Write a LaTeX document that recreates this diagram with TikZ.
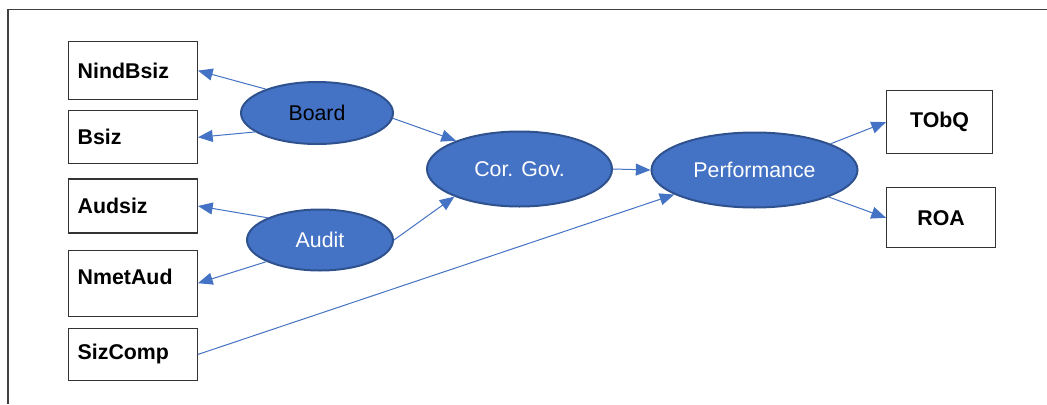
\documentclass[tikz,border=0pt]{standalone}
\usepackage{fontspec}
\setmainfont{Liberation Sans}
\usepackage{tikz}
\usetikzlibrary{shapes.geometric, arrows.meta, positioning}
\definecolor{oBlue}{RGB}{68,114,196}
\definecolor{oEdge}{RGB}{47,82,143}
\newcommand{\boxfont}{\fontsize{16}{19}\selectfont\bfseries}
\tikzstyle{ind}   = [rectangle, draw=black!80, line width=0.9pt, text width=83pt,
inner xsep=6.75pt, align=left, font=\boxfont]
\tikzstyle{res}   = [rectangle, draw=black!80, line width=0.9pt, align=center, font=\boxfont]
\tikzstyle{lat}   = [ellipse, draw=oEdge, line width=1.5pt, fill=oBlue, text=white]
\tikzstyle{arrow} = [-{Triangle[length=11pt,width=9pt]}, draw=oBlue, line width=0.75pt]

\begin{document}
\begin{tikzpicture}[x=0.75pt, y=-0.75pt, font=\fontsize{16}{19}\selectfont]
      \useasboundingbox (0,0) rectangle (1047,404);
      \draw [black!75, line width=1pt] (8,404) -- (8,9.5) -- (1047,9.5);

      \node(Nb)  [ind, minimum height=43.5pt, anchor=north east] at (198,41) {NindBsiz};
      \node(Bs)  [ind, minimum height=39.75pt, below=7.5pt of Nb.south east, anchor=north east] {Bsiz};
      \node(As)  [ind, minimum height=40.5pt, below=10.5pt of Bs.south east, anchor=north east] {Audsiz};
      \node(Na)  [ind, minimum height=49.5pt, text depth=10pt, below=12pt of As.south east, anchor=north east] {NmetAud};
      \node(Sc)  [ind, minimum height=39pt, below=8.25pt of Na.south east, anchor=north east] {SizComp};

      \node(Bd)  [lat, text=black, minimum width=114pt, minimum height=46.5pt] at (317,113) {Board};
      \node(Ad)  [lat, minimum width=109.5pt, minimum height=45.75pt] at (320,240) {Audit};
      \node(Cg)  [lat, minimum width=138.75pt, minimum height=56.25pt] at (519.5,169) {Cor. Gov.};
      \node(Pf)  [lat, minimum width=154.5pt, minimum height=56.25pt] at (754.5,170) {Performance};

      \node(Tq)  [res, minimum width=79.5pt, minimum height=47.25pt, anchor=north west] at (886,90) {TObQ};
      \node(Roa) [res, minimum width=81.75pt, minimum height=45pt, below=24.75pt of Tq.south west, anchor=north west] {ROA};

      \draw [arrow] (Bd.155) -- (Nb.east);
      \draw [arrow] (Bd.197) -- (Bs.east);
      \draw [arrow] (Bd.356) -- (Cg.156);
      \draw [arrow] (Ad.157) -- (As.east);
      \draw [arrow] (Ad.202) -- (Na.east);
      \draw [arrow] (Ad.east) -- (Cg.203);
      \draw [arrow] (Cg.east) -- (Pf.west);
      \draw [arrow] (Sc.east) -- (Pf.197);
      \draw [arrow] (Pf.19)   -- (Tq.west);
      \draw [arrow] (Pf.340)  -- (Roa.west);
    \end{tikzpicture}
\end{document}
